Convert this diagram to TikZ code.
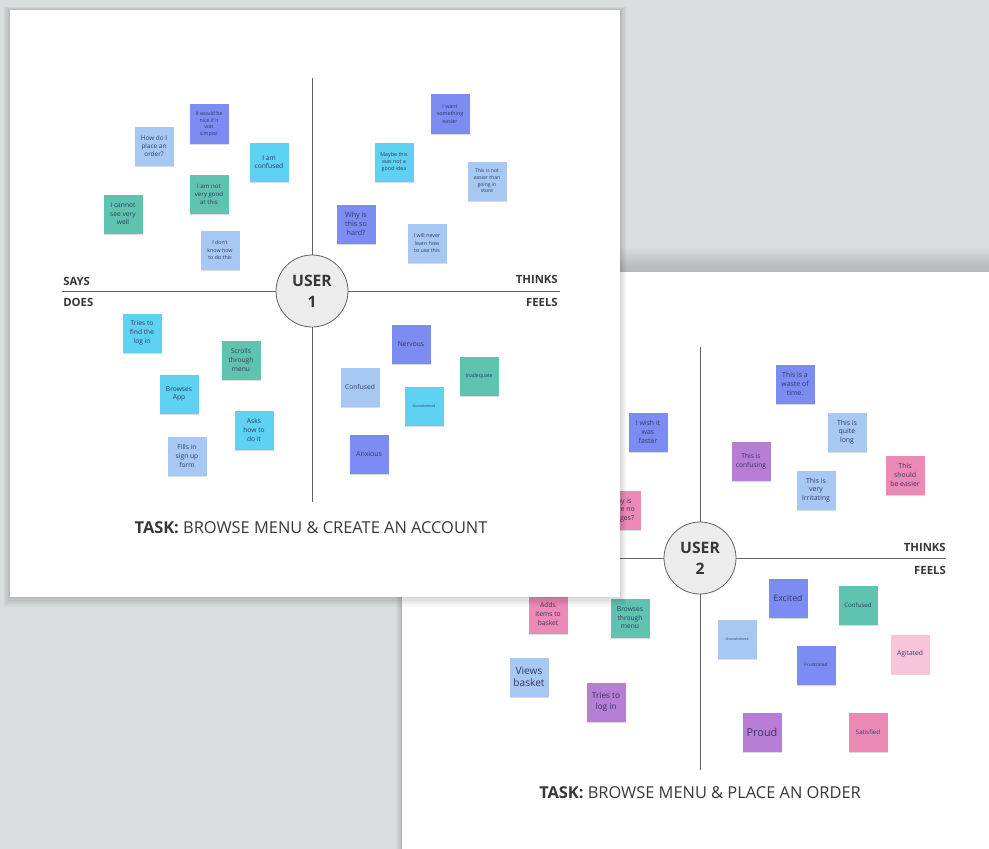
\documentclass[tikz,border=0pt]{standalone}
\usepackage{fontspec}
\setmainfont{Open Sans}
\usetikzlibrary{shadows}

\definecolor{bg}{RGB}{218,221,222}
\definecolor{violetnote}{RGB}{124,140,242}
\definecolor{paleblue}{RGB}{168,200,244}
\definecolor{cyannote}{RGB}{94,210,242}
\definecolor{tealnote}{RGB}{94,196,176}
\definecolor{purplenote}{RGB}{184,126,214}
\definecolor{pinknote}{RGB}{236,138,182}
\definecolor{lightpink}{RGB}{248,196,218}
\definecolor{notetext}{RGB}{50,56,98}
\definecolor{axisgray}{RGB}{100,100,100}
\definecolor{labelgray}{RGB}{55,55,55}
\definecolor{circfill}{RGB}{236,236,236}

\tikzset{
  sticky/.style={minimum width=29.25pt, minimum height=29.25pt, inner sep=0pt,
    align=center, text=notetext, font=\fontsize{4.4}{5.4}\selectfont,
    drop shadow={shadow xshift=0.2pt, shadow yshift=-1.1pt, opacity=0.28}},
  axisline/.style={draw=axisgray, line width=0.7pt},
  usercircle/.style={circle, draw=axisgray, line width=0.6pt, fill=circfill,
    minimum size=54pt, inner sep=0pt, align=center, text=labelgray,
    font=\fontsize{11.8}{15}\selectfont\bfseries},
  quadlabel/.style={text=labelgray, inner sep=0pt, font=\fontsize{8.5}{10}\selectfont\bfseries},
  tasklabel/.style={text=labelgray, inner sep=0pt, font=\fontsize{12.3}{14}\selectfont},
  board/.style={fill=white}
}

\begin{document}
\begin{tikzpicture}[x=0.75pt,y=-0.75pt]
\useasboundingbox (0,0) rectangle (989,849);
\fill[bg] (0,0) rectangle (989,849);

% ---------------- second board (behind) ----------------
\foreach \d in {1,...,10}
  \fill[black, opacity=0.016] (402-\d*0.6, 272-\d*2.4) rectangle (989, 849);
\fill[board] (402,272) rectangle (989,849);

\node[usercircle] (u2) at (700,558) {USER\\[1pt]2};
\coordinate (b2top) at (700,347);
\coordinate (b2bot) at (700,770);
\coordinate (b2left) at (452,558);
\coordinate (b2right) at (946,558);
\draw[axisline] (b2top) -- (u2.north);
\draw[axisline] (u2.south) -- (b2bot);
\draw[axisline] (b2left) -- (u2.west);
\draw[axisline] (u2.east) -- (b2right);

\node[quadlabel, anchor=east] (thinks2) at (946,547) {THINKS};
\node[quadlabel, anchor=east] (feels2) at (946,570) {FEELS};
\node[tasklabel] (task2) at (700,793) {\textbf{TASK:} BROWSE MENU \& PLACE AN ORDER};

% says
\node[sticky, fill=violetnote, font=\fontsize{5.2}{6.6}\selectfont] (s21) at (648,432) {I wish it\\was\\faster};
\node[sticky, fill=pinknote, font=\fontsize{5.2}{6.6}\selectfont] (s22) at (621,510) {Why is\\there no\\images?};
% thinks
\node[sticky, fill=violetnote, font=\fontsize{5.2}{6.6}\selectfont] (t21) at (795,384) {This is a\\waste of\\time.};
\node[sticky, fill=paleblue, font=\fontsize{5.2}{6.6}\selectfont] (t22) at (847,432) {This is\\quite\\long};
\node[sticky, fill=purplenote, font=\fontsize{5}{6.4}\selectfont] (t23) at (751,461) {This is\\confusing};
\node[sticky, fill=paleblue, font=\fontsize{5.2}{6.6}\selectfont] (t24) at (816,490) {This is\\very\\irritating};
\node[sticky, fill=pinknote, font=\fontsize{5.2}{6.6}\selectfont] (t25) at (905,475) {This\\should\\be easier};
% does
\node[sticky, fill=pinknote, font=\fontsize{5}{6.4}\selectfont] (d21) at (548,614) {Adds\\items to\\basket};
\node[sticky, fill=tealnote, font=\fontsize{5}{6.4}\selectfont] (d22) at (630,618) {Browses\\through\\menu};
\node[sticky, fill=paleblue, font=\fontsize{7.6}{9.4}\selectfont] (d23) at (529,677) {Views\\basket};
\node[sticky, fill=purplenote, font=\fontsize{6.2}{8}\selectfont] (d24) at (606,702) {Tries to\\log in};
% feels
\node[sticky, fill=violetnote, font=\fontsize{6.6}{8}\selectfont] (f21) at (788,598) {Excited};
\node[sticky, fill=tealnote, font=\fontsize{4.6}{6}\selectfont] (f22) at (858,605) {Confused};
\node[sticky, fill=paleblue, font=\fontsize{2.6}{3}\selectfont] (f23) at (737,639) {Overwhelmed};
\node[sticky, fill=violetnote, font=\fontsize{3.6}{4}\selectfont] (f24) at (816,665) {Frustrated};
\node[sticky, fill=lightpink, font=\fontsize{5}{6}\selectfont] (f25) at (910,654) {Agitated};
\node[sticky, fill=purplenote, font=\fontsize{8.2}{9}\selectfont] (f26) at (762,732) {Proud};
\node[sticky, fill=pinknote, font=\fontsize{4.6}{6}\selectfont] (f27) at (868,732) {Satisfied};

% ---------------- first board (front) ----------------
\foreach \d in {1,...,8}
  \fill[black, opacity=0.018] (10-\d*0.8, 10-\d*0.4) rectangle (620+\d*0.8, 597+\d*1.2);
\fill[board] (10,10) rectangle (620,597);

\node[usercircle] (u1) at (312,291) {USER\\[1pt]1};
\coordinate (b1top) at (312,78);
\coordinate (b1bot) at (312,502);
\coordinate (b1left) at (62,291);
\coordinate (b1right) at (560,291);
\draw[axisline] (b1top) -- (u1.north);
\draw[axisline] (u1.south) -- (b1bot);
\draw[axisline] (b1left) -- (u1.west);
\draw[axisline] (u1.east) -- (b1right);

\node[quadlabel, anchor=west] (says1) at (63,281) {SAYS};
\node[quadlabel, anchor=east] (thinks1) at (558,279) {THINKS};
\node[quadlabel, anchor=west] (does1) at (63,302) {DOES};
\node[quadlabel, anchor=east] (feels1) at (558,302) {FEELS};
\node[tasklabel] (task1) at (311,528) {\textbf{TASK:} BROWSE MENU \& CREATE AN ACCOUNT};

% says
\node[sticky, fill=paleblue, font=\fontsize{4.8}{6.2}\selectfont] (s11) at (154,146) {How do I\\place an\\order?};
\node[sticky, fill=violetnote, font=\fontsize{3.9}{5}\selectfont] (s12) at (209,124) {It would be\\nice if it\\was\\simpler};
\node[sticky, fill=cyannote, font=\fontsize{5}{6.4}\selectfont] (s13) at (269,162) {I am\\confused};
\node[sticky, fill=tealnote, font=\fontsize{4.6}{6}\selectfont] (s14) at (209,194) {I am not\\very good\\at this};
\node[sticky, fill=tealnote, font=\fontsize{5}{6.4}\selectfont] (s15) at (123,214) {I cannot\\see very\\well};
\node[sticky, fill=paleblue, font=\fontsize{4}{5.4}\selectfont] (s16) at (220,250) {I don't\\know how\\to do this};
% thinks
\node[sticky, fill=violetnote, font=\fontsize{4}{5.4}\selectfont] (t11) at (450,114) {I want\\something\\easier};
\node[sticky, fill=cyannote, font=\fontsize{4}{5.4}\selectfont] (t12) at (394,162) {Maybe this\\was not a\\good idea};
\node[sticky, fill=paleblue, font=\fontsize{3.8}{5}\selectfont] (t13) at (487,181) {This is not\\easier than\\going in\\store};
\node[sticky, fill=violetnote, font=\fontsize{5.4}{6.8}\selectfont] (t14) at (356,224) {Why is\\this so\\hard?};
\node[sticky, fill=paleblue, font=\fontsize{4}{5.4}\selectfont] (t15) at (427,243) {I will never\\learn how\\to use this};
% does
\node[sticky, fill=cyannote, font=\fontsize{5}{6.6}\selectfont] (d11) at (142,333) {Tries to\\find the\\log in};
\node[sticky, fill=tealnote, font=\fontsize{5}{6.6}\selectfont] (d12) at (241,360) {Scrolls\\through\\menu};
\node[sticky, fill=cyannote, font=\fontsize{5}{6.6}\selectfont] (d13) at (179,394) {Browses\\App};
\node[sticky, fill=cyannote, font=\fontsize{5}{6.6}\selectfont] (d14) at (254,430) {Asks\\how to\\do it};
\node[sticky, fill=paleblue, font=\fontsize{5}{6.6}\selectfont] (d15) at (187,456) {Fills in\\sign up\\form};
% feels
\node[sticky, fill=violetnote, font=\fontsize{5}{6}\selectfont] (f11) at (411,344) {Nervous};
\node[sticky, fill=paleblue, font=\fontsize{5}{6}\selectfont] (f12) at (360,387) {Confused};
\node[sticky, fill=cyannote, font=\fontsize{2.6}{3}\selectfont] (f13) at (424,406) {Overwhelmed};
\node[sticky, fill=tealnote, font=\fontsize{3.8}{4.4}\selectfont] (f14) at (479,376) {Inadequate};
\node[sticky, fill=violetnote, font=\fontsize{5.2}{6}\selectfont] (f15) at (369,454) {Anxious};
\end{tikzpicture}
\end{document}
